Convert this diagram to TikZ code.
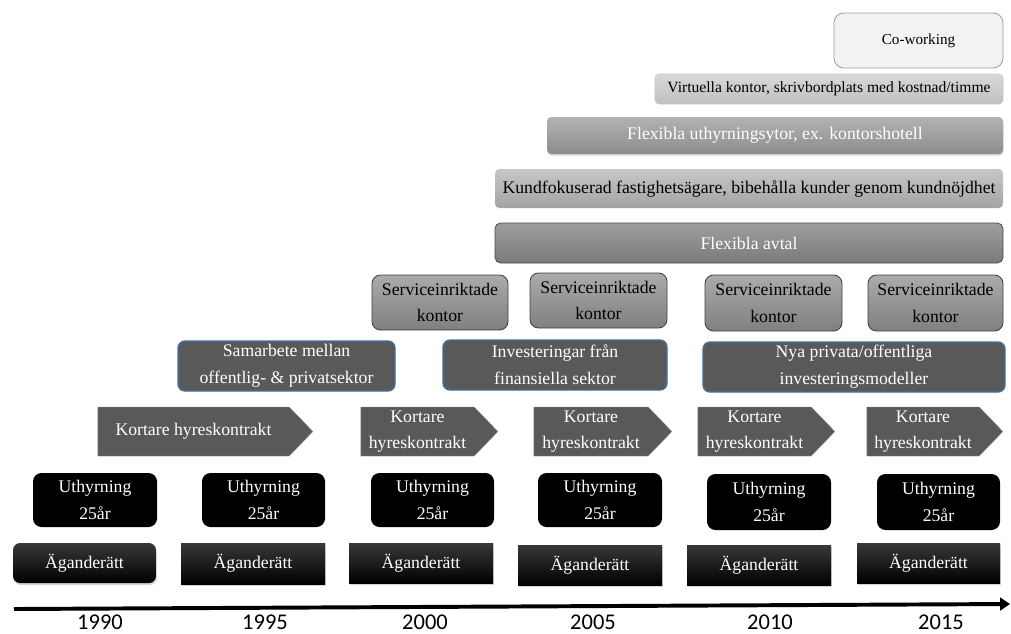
\documentclass[tikz,border=0pt]{standalone}
\usepackage{fontspec}
\setmainfont{Liberation Serif}
\newfontfamily\yearfont{Carlito}
\usetikzlibrary{positioning,arrows.meta,shapes.symbols,shadows}

\definecolor{steelfill}{HTML}{595959}
\definecolor{steelblue}{HTML}{41719C}

\begin{document}
\begin{tikzpicture}[x=0.025cm,y=-0.025cm,
  font=\fontsize{12.6}{19}\selectfont,
  % a box given by its left, top, right and bottom edge
  spanbox/.style args={#1/#2/#3/#4}{at={({(#1+#3)/2},{(#2+#4)/2})},
    minimum width={(#3-#1)*0.025cm},minimum height={(#4-#2)*0.025cm}},
  % same for the signal shape, whose centre sits in the body (point is 24 wide)
  spanarrow/.style args={#1/#2/#3/#4}{at={({(#1+#3-24)/2},{(#2+#4)/2})},
    minimum width={(#3-#1)*0.025cm},minimum height={(#4-#2)*0.025cm}},
  box/.style={inner sep=0pt,align=center},
  own/.style={box,text=white,top color=black!78,bottom color=black,
    drop shadow={opacity=.35,shadow xshift=.6pt,shadow yshift=-1.4pt}},
  lease/.style={box,fill=black,text=white,rounded corners=6pt},
  short/.style={box,shape=signal,signal to=east,signal pointer angle=92,
    fill=steelfill,draw=black!45,line width=.3pt,text=white},
  coop/.style={box,fill=steelfill,draw=steelblue,line width=1pt,text=white,rounded corners=5pt},
  service/.style={box,top color=black!33,bottom color=black!50,draw=black!75,line width=.6pt,rounded corners=6pt},
  year/.style={font=\yearfont\fontsize{16}{18}\selectfont}]
\useasboundingbox (0,0) rectangle (1011,633);

% flexible forms on top
\node[box,fill=black!5,draw=black!38,line width=.6pt,rounded corners=7pt,
  font=\fontsize{10.8}{13}\selectfont,spanbox=834/13/1003/68] (cowork) {Co-working};
\node[box,top color=black!15,bottom color=black!25,draw=black!22,line width=.5pt,rounded corners=3pt,
  font=\fontsize{11.1}{13}\selectfont,spanbox=655/74/1003/104] (virtual) {Virtuella kontor, skrivbordplats med kostnad/timme};
\node[box,top color=black!30,bottom color=black!45,text=white,rounded corners=3pt,
  drop shadow={opacity=.3,shadow xshift=.4pt,shadow yshift=-1.2pt},
  spanbox=547/117/1003/154] (hotel) {Flexibla uthyrningsytor, ex. kontorshotell};
\node[box,top color=black!22,bottom color=black!36,rounded corners=3pt,
  spanbox=495/169/1003/208] (client) {Kundfokuserad fastighetsägare, bibehålla kunder genom kundnöjdhet};
\node[box,top color=black!38,bottom color=black!52,draw=black!70,line width=.6pt,text=white,rounded corners=4pt,
  spanbox=495/223/1003/263] (flex) {Flexibla avtal};

% service offices
\node[service,spanbox=372/275/508/330] (serv1) {Serviceinriktade\\kontor};
\node[service,spanbox=530/273/667/328] (serv2) {Serviceinriktade\\kontor};
\node[service,spanbox=705/275/842/331] (serv3) {Serviceinriktade\\kontor};
\node[service,spanbox=868/275/1003/331] (serv4) {Serviceinriktade\\kontor};

% investment models
\node[coop,spanbox=178/341/395/391] (coop1) {Samarbete mellan\\offentlig- \& privatsektor};
\node[coop,spanbox=443/340/667/390] (coop2) {Investeringar från\\finansiella sektor};
\node[coop,spanbox=703/342/1005/392] (coop3) {Nya privata/offentliga\\investeringsmodeller};

% shorter leases
\node[short,spanarrow=98/407/313/456] (short1) {Kortare hyreskontrakt};
\node[short,spanarrow=361/407/498/456] (short2) {Kortare\\hyreskontrakt};
\node[short,spanarrow=534/407/672/456] (short3) {Kortare\\hyreskontrakt};
\node[short,spanarrow=698/407/835/456] (short4) {Kortare\\hyreskontrakt};
\node[short,spanarrow=867/407/1003/456] (short5) {Kortare\\hyreskontrakt};

% 25 year leases
\node[lease,spanbox=33/473/157/527] (lease1) {Uthyrning\\25år};
\node[lease,spanbox=202/473/325/527] (lease2) {Uthyrning\\25år};
\node[lease,spanbox=371/473/494/527] (lease3) {Uthyrning\\25år};
\node[lease,spanbox=538/473/662/527] (lease4) {Uthyrning\\25år};
\node[lease,spanbox=707/474/831/530] (lease5) {Uthyrning\\25år};
\node[lease,spanbox=877/474/1000/530] (lease6) {Uthyrning\\25år};

% ownership
\node[own,rounded corners=5pt,spanbox=13/543/156/583] (own1) {Äganderätt};
\node[own,spanbox=181/543/325/584] (own2) {Äganderätt};
\node[own,spanbox=349/543/493/583] (own3) {Äganderätt};
\node[own,spanbox=518/545/662/585] (own4) {Äganderätt};
\node[own,spanbox=687/545/831/585] (own5) {Äganderätt};
\node[own,spanbox=857/543/1000/583] (own6) {Äganderätt};

% time axis
\coordinate (t0) at (14,609);
\coordinate (t1) at (1010,604);
\draw[line width=2.8pt,-{Triangle[length=7pt,width=9pt]}] (t0) -- (t1);
\node[year] (y1990) at (100,622) {1990};
\node[year] (y1995) at (265,622) {1995};
\node[year] (y2000) at (425,622) {2000};
\node[year] (y2005) at (593,622) {2005};
\node[year] (y2010) at (770,622) {2010};
\node[year] (y2015) at (941,622) {2015};
\end{tikzpicture}
\end{document}
